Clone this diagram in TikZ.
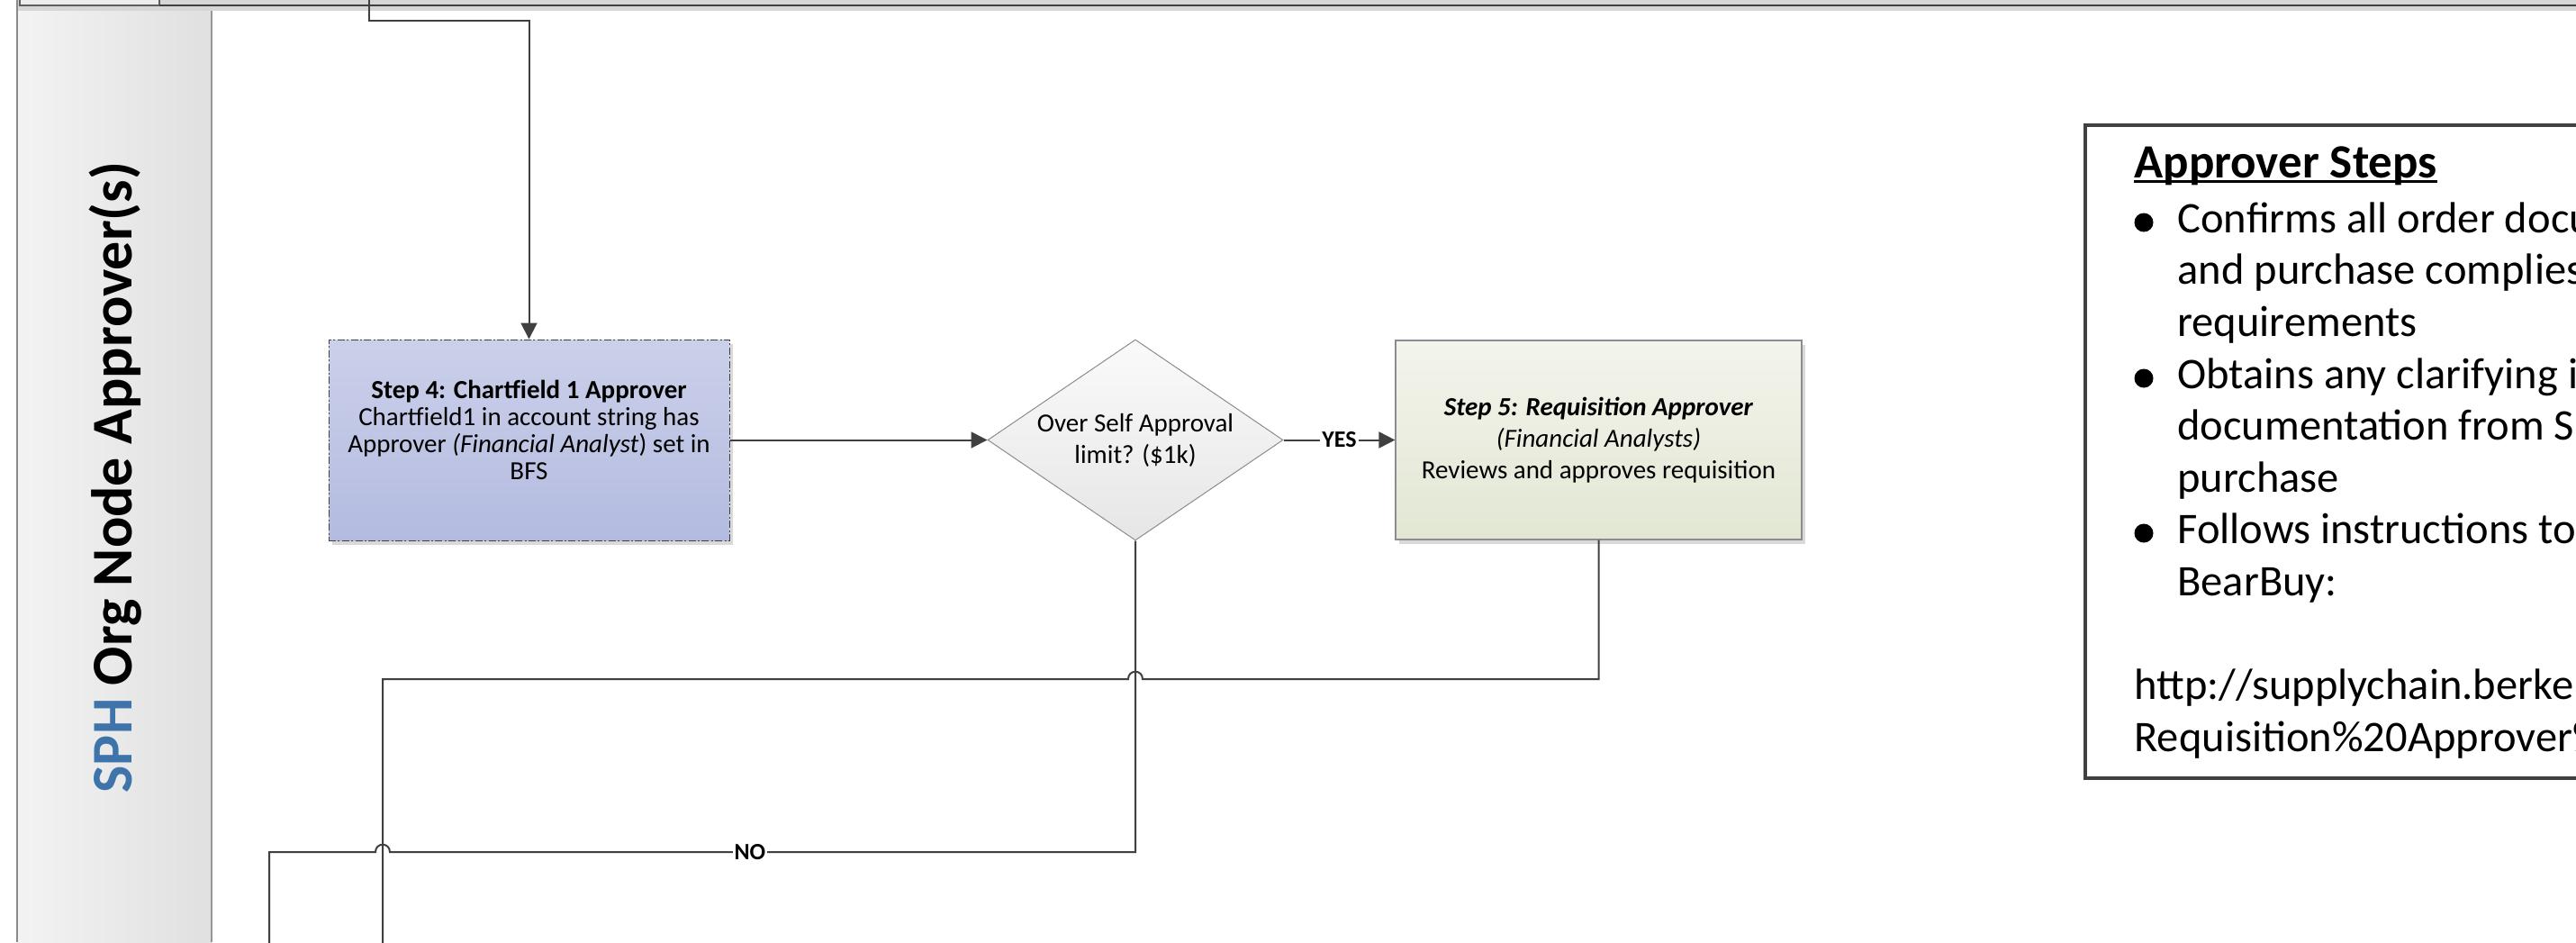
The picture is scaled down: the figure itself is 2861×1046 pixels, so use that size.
\documentclass[tikz,border=0pt]{standalone}
\usepackage{fontspec}
\setmainfont{Carlito}
\usetikzlibrary{arrows.meta,shapes.geometric,shadows}
\definecolor{linec}{HTML}{404040}
\definecolor{bandc}{HTML}{D6D6D6}
\definecolor{lanel}{HTML}{F3F3F3}
\definecolor{laner}{HTML}{E0E0E0}
\definecolor{laneb}{HTML}{8A8A8A}
\definecolor{sphblue}{HTML}{3F74AA}
\definecolor{sfourtop}{HTML}{CBD0EA}
\definecolor{sfourbot}{HTML}{B3BBDF}
\definecolor{sfivetop}{HTML}{F3F4EC}
\definecolor{sfivebot}{HTML}{E2E7D3}
\definecolor{dectop}{HTML}{FAFAFA}
\definecolor{decbot}{HTML}{E6E6E6}
\definecolor{shapeb}{HTML}{8C8C8C}
\begin{document}
\begin{tikzpicture}[x=0.5pt,y=-0.5pt,
  conn/.style={draw=linec,line width=1pt},
  arr/.style={-{Triangle[length=9pt,width=9pt]}},
  lbl/.style={fill=white,inner sep=1pt,text=black,font=\bfseries\fontsize{13}{13}\selectfont},
  shade4/.style={rectangle,top color=sfourtop,bottom color=sfourbot,draw=linec,line width=0.5pt,
    dash pattern=on 4pt off 1.2pt on 1pt off 1.2pt,
    drop shadow={shadow xshift=2pt,shadow yshift=-2.5pt,fill=black!25,opacity=0.6},
    minimum width=222.5pt,minimum height=111.5pt,inner sep=2pt,align=center,
    font=\fontsize{14.5}{15}\selectfont},
  shade5/.style={rectangle,top color=sfivetop,bottom color=sfivebot,draw=shapeb,line width=0.6pt,
    drop shadow={shadow xshift=2pt,shadow yshift=-2.5pt,fill=black!25,opacity=0.6},
    minimum width=225.5pt,minimum height=110.5pt,inner sep=2pt,align=center,
    font=\fontsize{14.5}{17.5}\selectfont},
  decis/.style={diamond,shape aspect=1.47,top color=dectop,bottom color=decbot,draw=shapeb,line width=0.5pt,
    minimum width=164pt,minimum height=111.5pt,inner sep=0pt,align=center,
    font=\fontsize{14.5}{17.5}\selectfont},
  notetext/.style={anchor=base west,inner sep=0pt,text=black,font=\fontsize{24.25}{28.75}\selectfont},
  bul/.style={circle,fill=black,inner sep=0pt,minimum size=10.5pt}
]
\useasboundingbox (0,0) rectangle (2861,1046);
\clip (0,0) rectangle (2861,1046);

% top band and lane header
\fill[bandc] (19,0) rectangle (2861,12);
\filldraw[fill=black!7,draw=linec!85,line width=0.6pt] (22,-4) rectangle (177,6);
\draw[linec,line width=1.2pt] (177,6) -- (2861,6);
\shade[left color=lanel,right color=laner] (19,12) rectangle (235,1046);
\draw[laneb,line width=0.8pt] (19,0) -- (19,1046);
\draw[laneb!90,line width=0.8pt] (235,12) -- (235,1046);
\node[rotate=90,anchor=base,inner sep=0pt,font=\bfseries\fontsize{32}{32}\selectfont] (lane) at (146,530)
  {\textcolor{sphblue}{SPH} Org Node Approver(s)};

% flow nodes
\node[shade4] (s4) at (587.5,488.5)
  {\textbf{Step 4: Chartfield 1 Approver}\\Chartfield1 in account string has\\Approver \textit{(Financial Analyst})~set in\\BFS\\[-4pt]\mbox{}};
\node[decis] (dec) at (1261,488.5) {Over Self Approval\\limit? (\$1k)};
\node[shade5] (s5) at (1775.5,488.5)
  {\textbf{\textit{Step 5: Requisition Approver}}\\\textit{(Financial Analysts)}\\Reviews and approves requisition};

% connectors
\coordinate (src) at (410,-4);
\coordinate (endA) at (425,1050);
\coordinate (endB) at (299,1050);
\draw[conn,arr] (src) -- (410,23) -| (s4.north);
\draw[conn,arr] (s4.east) -- (dec.west);
\draw[conn,arr] (dec.east) -- node[lbl,pos=0.5] (yes) {YES} (s5.west);
\draw[conn] (s5.south) |- (1269,754) .. controls (1269,743) and (1253,743) .. (1253,754) -- (425,754) -- (endA);
\draw[conn] (dec.south) -- (1261,946) -- node[lbl,pos=0.517] (no) {NO} (433,946)
  .. controls (433,935) and (417,935) .. (417,946) -- (299,946) -- (endB);

% approver steps box
\node[draw=linec,line width=2pt,rectangle,anchor=north west,minimum width=293pt,minimum height=362.5pt,inner sep=0pt] (notes) at (2314,137) {};
\node[anchor=base west,inner sep=0pt,text=black,font=\bfseries\fontsize{26.5}{30}\selectfont] (title) at (2370,197) {Approver Steps};
\draw[black,line width=1.5pt] ([yshift=-2pt]title.base west) -- ([yshift=-2pt]title.base east);
\node[bul] (b1) at (2381,247) {};
\node[bul] (b2) at (2381,420) {};
\node[bul] (b3) at (2381,592) {};
\node[notetext] (l1) at (2418,258) {Confirms all order documentation};
\node[notetext] (l2) at (2418,315) {and purchase complies};
\node[notetext] (l3) at (2418,373) {requirements};
\node[notetext] (l4) at (2418,431) {Obtains any clarifying information};
\node[notetext] (l5) at (2418,488) {documentation from SPH};
\node[notetext] (l6) at (2418,546) {purchase};
\node[notetext] (l7) at (2418,603) {Follows instructions to};
\node[notetext] (l8) at (2418,661) {BearBuy:};
\node[notetext] (l9) at (2370,776) {http://supplychain.berkeley.edu/};
\node[notetext] (l10) at (2370,834) {Requisition\%20Approver\%20};
\end{tikzpicture}
\end{document}
